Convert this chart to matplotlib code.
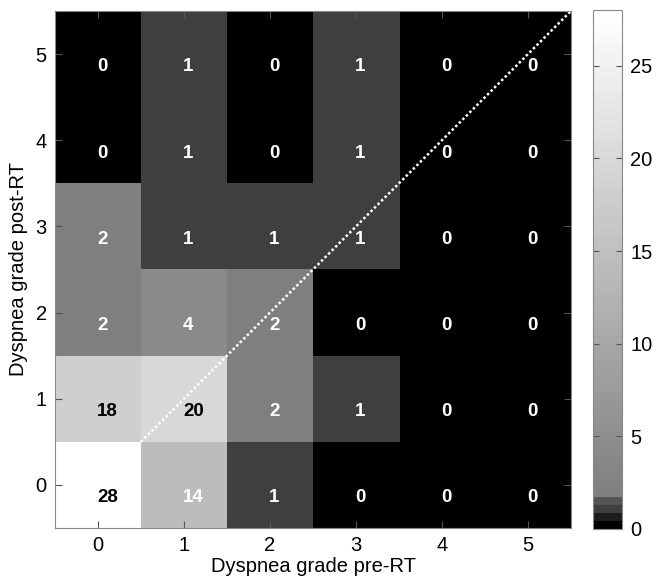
import numpy as np
import matplotlib
matplotlib.use("Agg")
import matplotlib.pyplot as plt
from matplotlib.colors import ListedColormap

plt.rcParams['font.family'] = ['Liberation Sans', 'DejaVu Sans']

pre_grades = [0, 1, 2, 3, 4, 5]
post_grades = [0, 1, 2, 3, 4, 5]
# rows: post-RT grade 0..5, columns: pre-RT grade 0..5
counts = np.array([
    [28, 14, 1, 0, 0, 0],
    [18, 20, 2, 1, 0, 0],
    [2, 4, 2, 0, 0, 0],
    [2, 1, 1, 1, 0, 0],
    [0, 1, 0, 1, 0, 0],
    [0, 1, 0, 1, 0, 0],
])
cbar_ticks = [0, 5, 10, 15, 20, 25]

# 64-level gray map with dark steps at the bottom
levels = [0.0, 0.11, 0.25, 0.33] + list(np.linspace(0.5, 1.0, 60))
cmap = ListedColormap([(g, g, g) for g in levels])

fig = plt.figure(figsize=(6.65, 5.79), dpi=100)
ax = fig.add_axes([0.0827, 0.0881, 0.776, 0.893])
cax = fig.add_axes([0.8917, 0.0864, 0.0436, 0.896])

im = ax.imshow(counts, cmap=cmap, vmin=0, vmax=28, origin='lower',
               extent=(-0.5, 5.5, -0.5, 5.5), aspect='auto', interpolation='nearest')

for i, yv in enumerate(post_grades):
    for j, xv in enumerate(pre_grades):
        v = counts[i, j]
        ax.text(xv - 0.01, yv - 0.15, str(v), ha='left', va='center', fontsize=13.5,
                fontweight='bold', color='black' if v >= 15 else 'white')

ax.plot([0.5, 5.5], [0.5, 5.5], color='white', linestyle=(0, (1, 1)), linewidth=1.8)

ax.set_xlim(-0.5, 5.5)
ax.set_ylim(-0.5, 5.5)
ax.set_xticks(pre_grades)
ax.set_yticks(post_grades)
ax.tick_params(direction='in', top=True, right=True, length=5, labelsize=14.5,
               color='#555555', pad=6)
for s in ax.spines.values():
    s.set_color('#888888')
ax.set_xlabel('Dyspnea grade pre-RT', fontsize=14.5, labelpad=1)
ax.set_ylabel('Dyspnea grade post-RT', fontsize=14.5, labelpad=5)

cb = fig.colorbar(im, cax=cax)
cb.set_ticks(cbar_ticks)
cb.ax.tick_params(direction='in', left=True, right=True, length=4, labelsize=14.5,
                  color='#555555', pad=6)
cb.outline.set_edgecolor('#888888')

fig.savefig('out.png', dpi=100)
